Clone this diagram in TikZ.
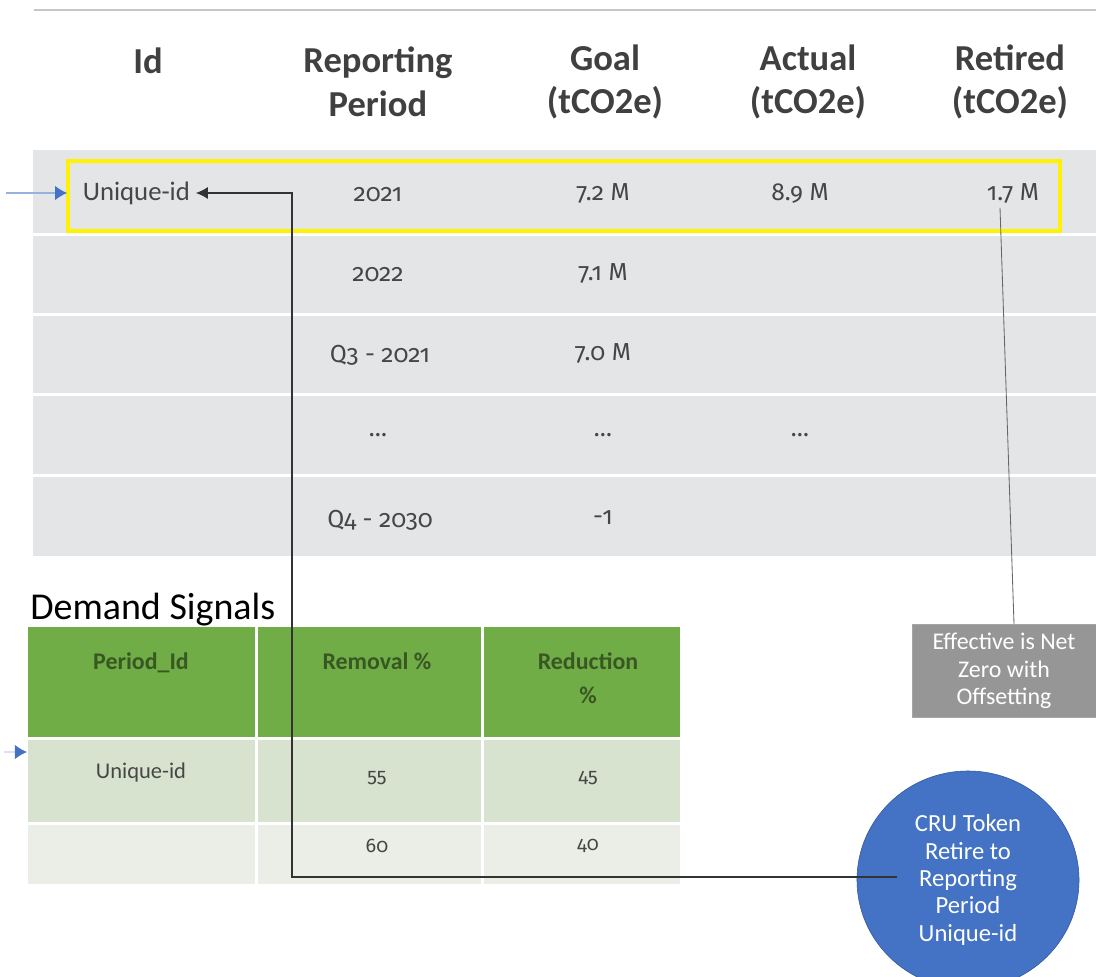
\documentclass[tikz,border=0pt]{standalone}
\usepackage{fontspec}
\setmainfont{Carlito}
\newfontfamily\numfont{Fira Sans}[Numbers=OldStyle]
\usepackage{xcolor}
\usepackage{tikz}
\usetikzlibrary{arrows.meta, positioning, calc, shapes.geometric}

\definecolor{rowgray}{RGB}{227,229,231}
\definecolor{headgray}{RGB}{64,64,64}
\definecolor{cellgray}{RGB}{70,70,70}
\definecolor{greenhead}{RGB}{112,173,71}
\definecolor{greenrowA}{RGB}{215,227,207}
\definecolor{greenrowB}{RGB}{234,238,231}
\definecolor{greentext}{RGB}{56,87,35}
\definecolor{notegray}{RGB}{150,150,150}
\definecolor{crublue}{RGB}{68,114,196}
\definecolor{cruedge}{RGB}{50,88,155}
\definecolor{linkblue}{RGB}{68,114,196}

\begin{document}
\begin{tikzpicture}[
        x=0.025cm, y=-0.025cm,
        colhead/.style={align=center, font=\fontsize{26}{31}\selectfont\bfseries, text=headgray},
        cell/.style={font=\numfont\fontsize{17.5}{20}\selectfont, text=cellgray},
        greenhd/.style={anchor=north, align=center, font=\fontsize{17}{24}\selectfont\bfseries, text=greentext},
        greencell/.style={font=\fontsize{16}{18}\selectfont, text=cellgray},
        greennum/.style={font=\numfont\fontsize{14}{18}\selectfont, text=cellgray},
        notebox/.style={rectangle, draw=gray!70, fill=notegray, minimum width=4.6cm, minimum height=2.33cm, align=center, text=white, font=\fontsize{17}{19.5}\selectfont},
        token/.style={ellipse, draw=cruedge, fill=crublue, minimum width=5.55cm, minimum height=5.45cm, inner sep=0pt, align=center, text=white, font=\fontsize{17.5}{19.5}\selectfont},
        link/.style={draw=black!80, line width=0.9pt, -{Latex[length=3mm, width=3mm]}},
        inlink/.style={draw=linkblue!55, line width=1pt, -{Latex[length=3mm, width=3.6mm, color=linkblue]}}
    ]
        \useasboundingbox (0,0) rectangle (1096,977);

        % --- Top: Goal table ---
        \draw[gray!45, line width=2pt] (34,10) -- (1096,10);

        \node[colhead] (h_id) at (148,61) {Id};
        \node[colhead] (h_period) at (378,82) {Reporting\\Period};
        \node[colhead] (h_goal) at (605,82) {Goal\\(tCO2e)};
        \node[colhead] (h_actual) at (808,82) {Actual\\(tCO2e)};
        \node[colhead] (h_retired) at (1010,82) {Retired\\(tCO2e)};

        % row bands
        \fill[rowgray] (33,150) rectangle (1096,233);
        \fill[rowgray] (33,236) rectangle (1096,313);
        \fill[rowgray] (33,316) rectangle (1096,393);
        \fill[rowgray] (33,396) rectangle (1096,474);
        \fill[rowgray] (33,477) rectangle (1096,556);

        \draw[yellow, line width=2.2pt] (68,161) rectangle (1060,231);

        \node[cell, anchor=west, inner sep=4pt, font=\fontsize{19}{22}\selectfont] (uid) at (77,193) {Unique-id};
        \node[cell] (p1) at (378,195) {2021};
        \node[cell] (g1) at (603,193) {7.2 M};
        \node[cell] (a1) at (800,193) {8.9 M};
        \node[cell] (ret) at (1013,193) {1.7 M};

        \node[cell] (p2) at (378,275) {2022};
        \node[cell] (g2) at (603,273) {7.1 M};

        \node[cell] (p3) at (380,355) {Q3 - 2021};
        \node[cell] (g3) at (603,353) {7.0 M};

        \node[cell] (p4) at (378,435) {\dots};
        \node[cell] (g4) at (603,435) {\dots};
        \node[cell] (a4) at (800,435) {\dots};

        \node[cell] (p5) at (380,520) {Q4 - 2030};
        \node[cell] (g5) at (603,518) {-1};

        % --- Bottom: Demand Signals ---
        \node[anchor=west, inner sep=0pt, font=\fontsize{27}{30}\selectfont] (ds_title) at (30,610) {Demand Signals};

        \fill[greenhead] (28,627) rectangle (255,737);
        \fill[greenhead] (258,627) rectangle (481,737);
        \fill[greenhead] (484,627) rectangle (680,737);
        \fill[greenrowA] (28,740) rectangle (255,822);
        \fill[greenrowA] (258,740) rectangle (481,822);
        \fill[greenrowA] (484,740) rectangle (680,822);
        \fill[greenrowB] (28,825) rectangle (255,884);
        \fill[greenrowB] (258,825) rectangle (481,884);
        \fill[greenrowB] (484,825) rectangle (680,884);

        \node[greenhd] (d_period) at (141,648) {Period\_Id};
        \node[greenhd] (d_removal) at (377,648) {Removal \%};
        \node[greenhd] (d_reduction) at (588,648) {Reduction\\\%};

        \node[greencell] (d_uid) at (141,772) {Unique-id};
        \node[greennum] (d_rem1) at (377,778) {55};
        \node[greennum] (d_red1) at (588,778) {45};
        \node[greennum] (d_rem2) at (377,846) {60};
        \node[greennum] (d_red2) at (588,846) {40};

        % --- Right: notes ---
        \node[notebox] (gbox) at (1004,671) {Effective is Net\\Zero with\\Offsetting};
        \node[token] (cru) at (968,880) {CRU Token\\Retire to\\Reporting\\Period\\Unique-id};

        % --- Connections ---
        \coordinate (in_top) at (6,193);
        \coordinate (in_low) at (4,752);
        \coordinate (d_left) at (27,752);
        \coordinate (bend) at (292,193);
        \draw[inlink, shorten >=7pt] (in_top) -- (uid.west);
        \draw[inlink, draw=linkblue!20] (in_low) -- (d_left);
        \draw[link] ($(cru.west)+(40,-3)$) -| (bend) -- (uid.east);
        \draw[gray!80!black, line width=0.6pt] ($(ret.south)+(-13,0)$) -- ($(gbox.north)+(10,0)$);

    \end{tikzpicture}
\end{document}
